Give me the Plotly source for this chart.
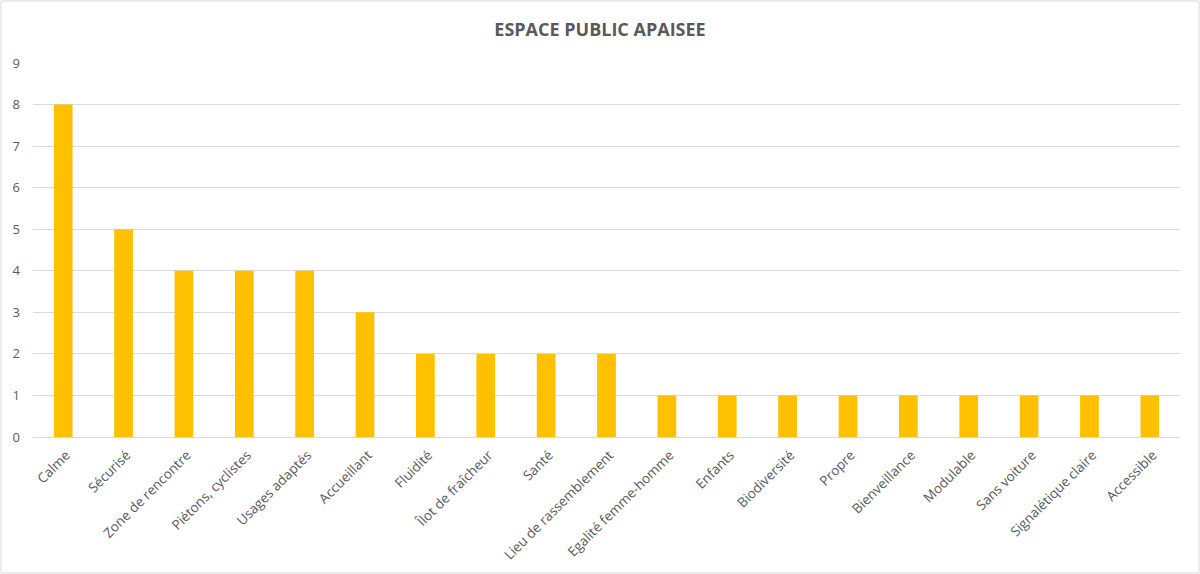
import plotly.graph_objects as go

categories = ["Calme", "Sécurisé", "Zone de rencontre", "Piétons, cyclistes", "Usages adaptés",
              "Accueillant", "Fluidité", "Îlot de fraîcheur", "Santé", "Lieu de rassemblement",
              "Egalité femme-homme", "Enfants", "Biodiversité", "Propre", "Bienveillance",
              "Modulable", "Sans voiture", "Signalétique claire", "Accessible"]
values = [8, 5, 4, 4, 4, 3, 2, 2, 2, 2, 1, 1, 1, 1, 1, 1, 1, 1, 1]
y_ticks = list(range(0, 10))

W, H = 1200, 574
L, R, T, B = 33, 20, 63, 137
pw, ph = W - L - R, H - T - B

def px_x(p):
    return (p - L) / pw

def px_y(p):
    return (H - B - p) / ph

fig = go.Figure(go.Bar(x=categories, y=values, marker=dict(color="#FFC000", line=dict(width=0)),
                       width=0.31))

fig.update_layout(
    width=W, height=H,
    margin=dict(l=L, r=R, t=T, b=B),
    paper_bgcolor="white", plot_bgcolor="white",
    title=dict(text="<b>ESPACE PUBLIC APAISEE</b>", x=0.5, xanchor="center", y=1 - 30 / H, yanchor="middle",
               font=dict(family="Open Sans, Calibri, sans-serif", size=18, color="#595959")),
    font=dict(family="Open Sans, Calibri, sans-serif", color="#595959"),
    showlegend=False,
    bargap=0.69,
)
fig.update_xaxes(tickangle=-45, tickfont=dict(size=13.5, color="#595959"), showgrid=False,
                 showline=True, linecolor="#D9D9D9", linewidth=1, ticks="",
                 ticklabelstandoff=4, ticklabelshift=3)
fig.update_yaxes(range=[0, 9], tickvals=y_ticks, tickfont=dict(size=13, color="#595959"),
                 showgrid=True, gridcolor="#D9D9D9", gridwidth=1, zeroline=False, ticks="",
                 ticklabelstandoff=12)
fig.add_shape(type="rect", xref="paper", yref="paper",
              x0=px_x(1), x1=px_x(W - 1), y0=px_y(H - 1), y1=px_y(1),
              line=dict(color="#D9D9D9", width=1), fillcolor="rgba(0,0,0,0)", layer="below")

fig.write_html("out.html", config={"displayModeBar": False},
               post_script="document.body.style.margin='0';document.body.style.overflow='hidden';")
